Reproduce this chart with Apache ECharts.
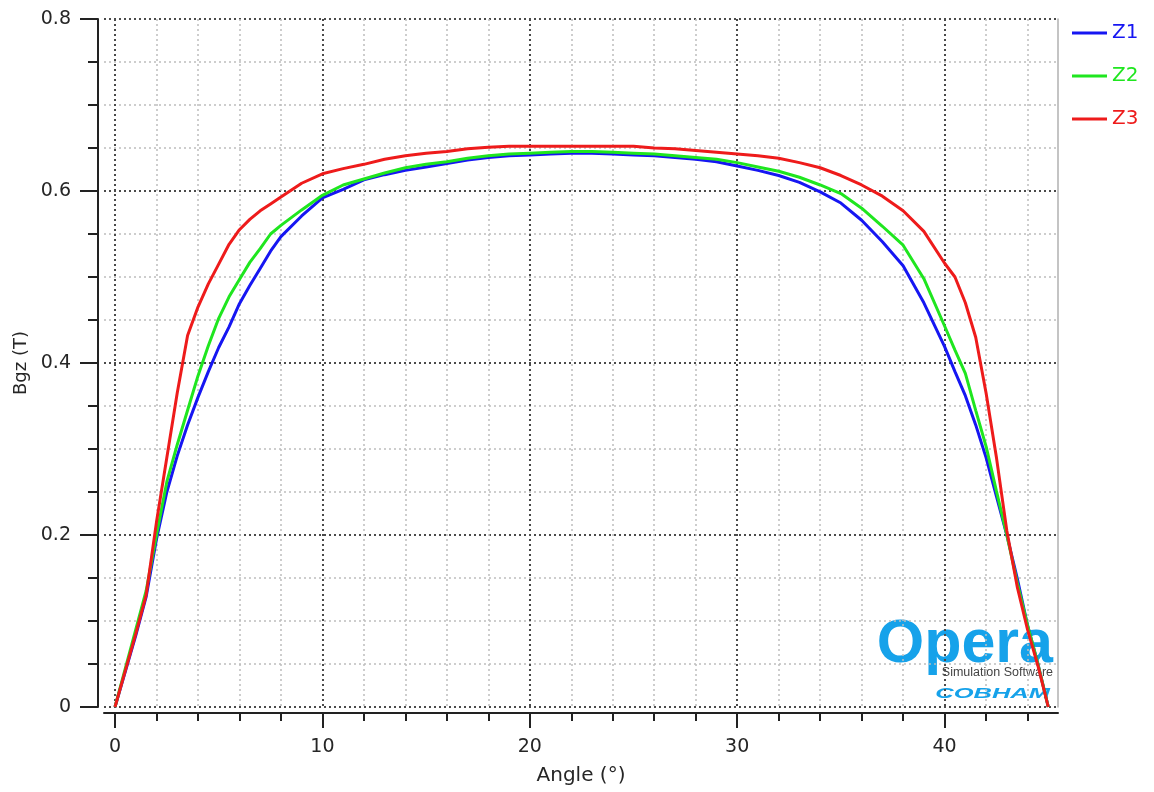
<!DOCTYPE html>
<html><head><meta charset="utf-8">
<script src="https://cdn.jsdelivr.net/npm/echarts@6/dist/echarts.min.js"></script>
<style>html,body{margin:0;padding:0;background:#fff}#c{width:1154px;height:792px}</style>
</head><body><div id="c"></div>
<script>
// ---- data ----
const angles = [0,1,1.5,2,2.5,3,3.5,4,4.5,5,5.5,6,6.5,7,7.5,8,
  9,10,11,12,13,14,15,16,17,18,19,20,21,22,23,24,25,26,27,28,29,30,31,32,33,34,35,36,37,38,39,
  40,40.5,41,41.5,42,42.5,43,43.5,44,44.5,45];
const z1 = [0,0.083,0.128,0.195,0.25,0.292,0.328,0.36,0.39,0.418,0.442,0.469,0.49,0.51,0.53,0.547,
  0.571,0.592,0.602,0.613,0.619,0.624,0.628,0.632,0.636,0.639,0.641,0.642,0.643,0.644,0.644,0.643,0.642,0.641,0.639,0.637,0.634,0.629,0.624,0.618,0.61,0.599,0.586,0.566,0.541,0.513,0.47,
  0.419,0.39,0.362,0.328,0.29,0.245,0.2,0.15,0.095,0.05,0];
const z2 = [0,0.09,0.135,0.2,0.262,0.305,0.345,0.385,0.42,0.452,0.477,0.497,0.517,0.533,0.55,0.56,
  0.578,0.595,0.607,0.614,0.621,0.627,0.631,0.634,0.638,0.641,0.643,0.644,0.645,0.646,0.646,0.645,0.644,0.643,0.641,0.639,0.637,0.633,0.628,0.623,0.616,0.607,0.597,0.58,0.559,0.537,0.498,
  0.443,0.415,0.388,0.345,0.303,0.251,0.2,0.145,0.095,0.05,0];
const z3 = [0,0.085,0.13,0.215,0.29,0.365,0.432,0.465,0.492,0.515,0.538,0.555,0.567,0.577,0.585,0.593,
  0.609,0.62,0.626,0.631,0.637,0.641,0.644,0.646,0.649,0.651,0.652,0.652,0.652,0.652,0.652,0.652,0.652,0.65,0.649,0.647,0.645,0.643,0.641,0.638,0.633,0.627,0.618,0.607,0.594,0.577,0.553,
  0.516,0.5,0.47,0.43,0.365,0.29,0.205,0.14,0.09,0.048,0];
const seriesNames = ['Z1','Z2','Z3'];
const seriesValues = [z1, z2, z3];
const xTicks = [0,10,20,30,40];
const yTicks = [0,0.2,0.4,0.6,0.8];

// ---- style ----
const colors = ['#1616f2','#1fe61f','#ee1b1b'];
const FONT = 'DejaVu Sans';
const TXT = '#262626';
const majorGrid = {color:'#4a4a4a', width:2, type:[2,3]};
const minorGrid = {color:'#bdbdbd', width:1.5, type:[2,3]};
const axisStroke = {color:'#222', width:2};
const PX = 20.74;          // pixels per degree
const X0 = 115;            // pixel of 0 degrees
const YMIN = yTicks[0], YMAX = yTicks[yTicks.length-1];
const g = (o) => Object.assign({containLabel:false, outerBoundsMode:'none'}, o);
const hiddenX = (gi) => ({gridIndex:gi, type:'value', min:0, max:1, show:false});
const hiddenY = (gi) => ({gridIndex:gi, type:'value', min:YMIN, max:YMAX, show:false});

const chart = echarts.init(document.getElementById('c'));
chart.setOption({
  animation:false,
  backgroundColor:'#fff',
  grid:[
    g({left:98,  right:96, top:19, bottom:85}),            // 0: y axis line, ticks, labels
    g({left:104, right:96, top:19, bottom:79}),            // 1: x axis line + name
    g({left:104, right:96, top:19, bottom:85}),            // 2: horizontal grid lines + right border
    g({left:X0, width:PX*50, top:19, bottom:85}),          // 3: vertical grid lines + data
    g({left:X0, width:PX*50, top:19, bottom:79})           // 4: x ticks + labels
  ],
  xAxis:[
    hiddenX(0),
    {gridIndex:1, type:'value', min:0, max:1,
     axisLine:{show:true, lineStyle:axisStroke}, axisTick:{show:false}, axisLabel:{show:false},
     splitLine:{show:false},
     name:'Angle (°)', nameLocation:'middle', nameGap:53,
     nameTextStyle:{fontSize:20, color:TXT, fontFamily:FONT}},
    hiddenX(2),
    {gridIndex:3, type:'value', min:xTicks[0], max:50, interval:xTicks[1]-xTicks[0],
     axisLine:{show:false}, axisTick:{show:false}, axisLabel:{show:false},
     splitLine:{show:true, lineStyle:majorGrid},
     minorTick:{show:false, splitNumber:5},
     minorSplitLine:{show:true, lineStyle:minorGrid}},
    {gridIndex:4, type:'value', min:xTicks[0], max:50, interval:xTicks[1]-xTicks[0],
     axisLine:{show:false},
     axisTick:{show:true, length:15, lineStyle:axisStroke},
     minorTick:{show:true, splitNumber:5, length:8, lineStyle:axisStroke},
     splitLine:{show:false},
     axisLabel:{margin:25, fontSize:19, color:TXT, fontFamily:FONT}}
  ],
  yAxis:[
    {gridIndex:0, type:'value', min:YMIN, max:YMAX, interval:yTicks[1]-yTicks[0],
     axisLine:{show:true, lineStyle:axisStroke},
     axisTick:{show:true, length:18, lineStyle:axisStroke},
     minorTick:{show:true, splitNumber:4, length:10, lineStyle:axisStroke},
     splitLine:{show:false},
     axisLabel:{margin:27, fontSize:19, color:TXT, fontFamily:FONT},
     name:'Bgz (T)', nameLocation:'middle', nameGap:68,
     nameTextStyle:{fontSize:18, color:TXT, fontFamily:FONT}},
    hiddenY(1),
    {gridIndex:2, type:'value', min:YMIN, max:YMAX, interval:yTicks[1]-yTicks[0],
     axisLine:{show:false}, axisTick:{show:false}, axisLabel:{show:false},
     splitLine:{show:true, lineStyle:majorGrid},
     minorTick:{show:false, splitNumber:4},
     minorSplitLine:{show:true, lineStyle:minorGrid}},
    {gridIndex:2, type:'value', position:'right', min:YMIN, max:YMAX,
     axisLine:{show:true, lineStyle:{color:'#b0b0b0', width:1.5}},
     axisTick:{show:false}, axisLabel:{show:false}, splitLine:{show:false}},
    hiddenY(3),
    hiddenY(4)
  ],
  legend:{
    orient:'vertical', left:1067, top:18, icon:'rect', itemWidth:35, itemHeight:3, itemGap:23,
    textStyle:{fontSize:20, lineHeight:20, fontFamily:FONT},
    data:seriesNames.map((n,i)=>({name:n, textStyle:{color:colors[i]}})),
    z:200, selectedMode:false
  },
  graphic:[
    {type:'rect', shape:{x:1059.5, y:0, width:100, height:792}, style:{fill:'#fff'}, z:100, silent:true},
    {type:'text', x:1053, y:645, z:-1, silent:true,
     style:{text:'Opera', font:'bold 61px "Liberation Sans"', fill:'#16a2ea', textAlign:'right', textVerticalAlign:'middle'}},
    {type:'text', x:1053, y:673, z:-1, silent:true,
     style:{text:'Simulation Software', font:'12.5px "Liberation Sans"', fill:'#444', textAlign:'right', textVerticalAlign:'middle'}},
    {type:'text', x:1050, y:694, z:-1, silent:true, scaleX:1.7,
     style:{text:'COBHAM', font:'italic bold 15px "Liberation Sans"', fill:'#16a2ea', textAlign:'right', textVerticalAlign:'middle'}}
  ],
  series:seriesNames.map((n,i)=>({
    name:n, type:'line', xAxisIndex:3, yAxisIndex:4,
    data:angles.map((a,k)=>[a, seriesValues[i][k]]),
    showSymbol:false, symbol:'none', smooth:false,
    lineStyle:{color:colors[i], width:3}, itemStyle:{color:colors[i]}, z:3+i
  }))
});
</script></body></html>
